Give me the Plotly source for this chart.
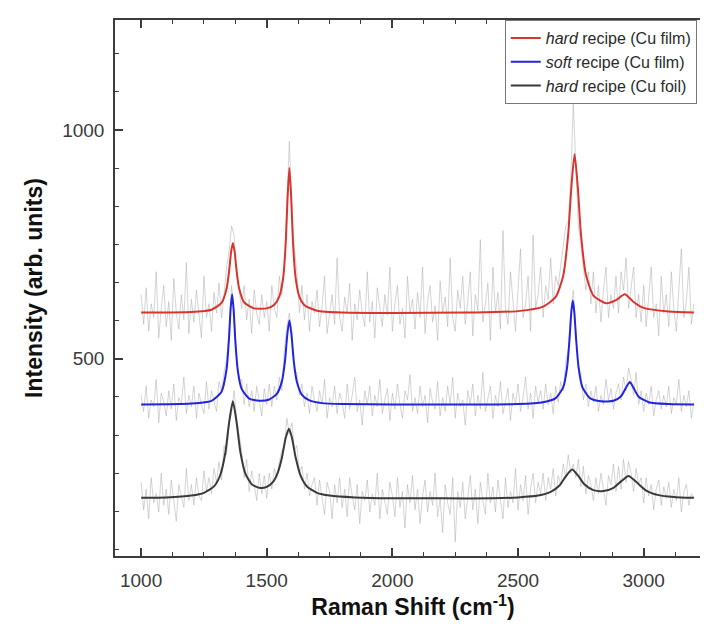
import plotly.graph_objects as go

# ---------------- data ----------------
series_names = ["<i>hard</i> recipe (Cu film)", "<i>soft</i> recipe (Cu film)", "<i>hard</i> recipe (Cu foil)"]
series_colors = ["#d8352f", "#2424e0", "#3a3a3a"]

# raw spectra sampled every 10 cm-1 from 1000 cm-1
RAW_START = 1000
RAW_STEP = 10

raw_hard_film = [
    640, 575, 655, 560, 620, 590, 690, 545, 610, 660,
    570, 625, 540, 675, 600, 565, 640, 585, 710, 555,
    630, 580, 650, 600, 545, 680, 590, 620, 560, 645,
    600, 665, 590, 640, 700, 735, 790, 770, 680, 650,
    610, 660, 585, 630, 555, 650, 600, 575, 640, 590,
    625, 560, 660, 610, 590, 680, 640, 700, 840, 975,
    820, 740, 690, 600, 660, 585, 640, 560, 625, 600,
    650, 570, 615, 680, 555, 605, 640, 575, 720, 590,
    560, 635, 600, 665, 540, 620, 585, 650, 600, 570,
    690, 580, 625, 545, 655, 610, 570, 640, 595, 700,
    560, 620, 660, 575, 610, 545, 680, 600, 630, 565,
    645, 590, 700, 555, 625, 660, 580, 615, 540, 670,
    600, 635, 570, 720, 590, 560, 650, 610, 680, 575,
    625, 690, 550, 640, 605, 760, 580, 620, 665, 540,
    700, 600, 645, 565, 780, 610, 575, 690, 630, 560,
    650, 740, 590, 620, 680, 560, 770, 610, 640, 700,
    590, 660, 630, 720, 620, 680, 660, 700, 740, 790,
    800, 890, 1060, 930, 790, 750, 700, 650, 690, 620,
    690, 600, 660, 580, 650, 700, 590, 640, 610, 680,
    600, 690, 650, 720, 610, 660, 700, 590, 640, 580,
    660, 570, 640, 700, 590, 620, 550, 680, 600, 640,
    570, 690, 610, 560, 650, 740, 590, 625, 700, 575,
    620,
]

raw_soft_film = [
    420, 385, 440, 370, 410, 395, 455, 360, 425, 405,
    375, 430, 390, 445, 365, 415, 400, 460, 380, 420,
    395, 440, 370, 425, 400, 380, 450, 390, 430, 410,
    385, 450, 430, 470, 500, 560, 660, 600, 500, 450,
    455, 400, 445, 395, 430, 385, 440, 410, 375, 435,
    400, 445, 395, 440, 410, 460, 430, 520, 570, 600,
    560, 470, 470, 420, 445, 395, 425, 380, 440, 410,
    385, 430, 400, 455, 370, 415, 395, 440, 380, 425,
    405, 370, 445, 390, 420, 460, 385, 410, 355, 430,
    400, 440, 375, 420, 395, 455, 380, 410, 435, 365,
    425, 390, 445, 400, 370, 430, 410, 465, 385, 415,
    380, 440, 395, 420, 360, 435, 405, 390, 450, 375,
    415, 385, 440, 400, 460, 370, 425, 395, 410, 355,
    430, 400, 445, 375, 420, 390, 470, 385, 415, 440,
    370, 420, 395, 450, 380, 410, 435, 365, 425, 400,
    445, 385, 415, 460, 390, 425, 370, 440, 405, 430,
    390, 445, 400, 425, 380, 440, 405, 450, 430, 495,
    520, 600, 650, 560, 475, 470, 410, 445, 395, 430,
    405, 440, 385, 420, 400, 455, 410, 435, 390, 425,
    445, 410, 460, 430, 480, 455, 420, 470, 400, 430,
    385, 425, 400, 440, 375, 410, 430, 390, 420, 395,
    440, 380, 415, 400, 455, 385, 420, 395, 430, 370,
    405,
]

raw_hard_foil = [
    230, 170, 215, 150, 240, 185, 205, 165, 250, 180,
    215, 160, 235, 190, 145, 225, 200, 175, 260, 190,
    225, 180, 240, 200, 190, 255, 210, 240, 205, 260,
    230, 275, 235, 310, 290, 360, 380, 430, 370, 330,
    300, 240, 280, 210, 255, 225, 190, 250, 205, 245,
    195, 250, 215, 260, 240, 275, 300, 310, 370, 335,
    360, 300, 310, 250, 265, 215, 250, 200, 225, 240,
    180, 235, 195, 160, 230, 210, 150, 225, 185, 240,
    175, 215, 155, 240, 200, 170, 225, 140, 210, 190,
    235, 165, 205, 180, 250, 150, 215, 190, 160, 230,
    200, 155, 240, 175, 210, 130, 225, 185, 245, 170,
    215, 140, 200, 235, 165, 210, 180, 250, 155, 195,
    120, 225, 185, 160, 240, 100, 210, 175, 230, 150,
    205, 245, 170, 215, 140, 230, 190, 160, 250, 185,
    220, 165, 235, 195, 150, 240, 175, 210, 185, 260,
    170, 225, 190, 245, 160, 215, 250, 185, 230, 205,
    250, 190, 240, 215, 260, 200, 245, 225, 270, 240,
    290, 250, 270, 240, 280, 220, 265, 205, 245, 225,
    190, 240, 205, 250, 215, 180, 245, 225, 270, 210,
    265, 215, 280, 230, 275, 250, 210, 260, 225, 240,
    185, 240, 200, 225, 170, 215, 235, 180, 220, 195,
    230, 175, 215, 190, 240, 165, 210, 225, 180, 205,
    195,
]

# fitted curves
fit_hard_film_x = [1000, 1200, 1280, 1320, 1340, 1350, 1358, 1365, 1372, 1380, 1390, 1410, 1450,
                   1500, 1530, 1550, 1565, 1575, 1583, 1590, 1597, 1605, 1615, 1630, 1650, 1700,
                   1800, 2000, 2300, 2500, 2600, 2650, 2680, 2700, 2712, 2725, 2738, 2750, 2770,
                   2800, 2850, 2890, 2925, 2960, 3000, 3100, 3200]
fit_hard_film_y = [601, 602, 607, 622, 653, 691, 733, 753, 734, 692, 654, 623, 610,
                   610, 618, 636, 676, 748, 854, 917, 854, 748, 676, 635, 617, 605,
                   601, 600, 601, 604, 614, 635, 682, 774, 873, 947, 874, 775, 684,
                   638, 621, 628, 641, 624, 611, 603, 601]

fit_soft_film_x = [1000, 1200, 1280, 1320, 1340, 1350, 1356, 1362, 1368, 1375, 1385, 1400, 1430,
                   1470, 1510, 1540, 1560, 1572, 1582, 1590, 1598, 1608, 1620, 1640, 1670, 1720,
                   1800, 2000, 2300, 2500, 2600, 2650, 2680, 2695, 2705, 2712, 2718, 2724, 2731,
                   2741, 2756, 2786, 2830, 2880, 2910, 2930, 2945, 2960, 2980, 3020, 3100, 3200]
fit_soft_film_y = [400, 402, 408, 428, 477, 547, 608, 641, 608, 538, 473, 434, 413,
                   408, 411, 423, 450, 492, 554, 584, 554, 492, 449, 421, 409, 403,
                   401, 400, 400, 401, 405, 414, 438, 480, 543, 601, 627, 602, 544,
                   481, 438, 414, 407, 408, 418, 437, 449, 436, 417, 405, 401, 400]

fit_hard_foil_x = [1000, 1100, 1200, 1250, 1290, 1315, 1335, 1350, 1365, 1380, 1395, 1415, 1440,
                   1470, 1500, 1525, 1545, 1560, 1575, 1588, 1600, 1615, 1635, 1660, 1700, 1750,
                   1850, 2000, 2200, 2400, 2500, 2580, 2630, 2665, 2690, 2715, 2740, 2765, 2800,
                   2840, 2880, 2910, 2940, 2970, 3010, 3060, 3120, 3200]
fit_hard_foil_y = [196, 197, 201, 207, 221, 246, 294, 360, 407, 361, 296, 249, 226,
                   218, 220, 231, 253, 283, 326, 347, 328, 284, 244, 221, 207, 201,
                   197, 195, 195, 195, 197, 201, 209, 223, 243, 258, 244, 225, 213,
                   211, 218, 232, 244, 231, 212, 202, 198, 196]

raw_series = [raw_hard_film, raw_soft_film, raw_hard_foil]
fit_series = [(fit_hard_film_x, fit_hard_film_y), (fit_soft_film_x, fit_soft_film_y),
              (fit_hard_foil_x, fit_hard_foil_y)]

x_range = [896, 3268]
y_range = [69, 1240]
x_ticks = [1000, 1500, 2000, 2500, 3000]
y_ticks = [500, 1000]

# ---------------- figure ----------------
fig = go.Figure()

for raw in raw_series:
    fig.add_trace(go.Scatter(
        y=raw, x0=RAW_START, dx=RAW_STEP, mode="lines",
        line=dict(color="rgba(170,170,170,0.5)", width=1),
        showlegend=False, hoverinfo="skip"))

for (fx, fy), name, color in zip(fit_series, series_names, series_colors):
    fig.add_trace(go.Scatter(
        x=fx, y=fy, mode="lines", name=name,
        line=dict(color=color, width=2, shape="spline", smoothing=0.6)))

axis_color = "#3c3c3c"
common_axis = dict(
    showline=True, linecolor=axis_color, linewidth=1.5, mirror="allticks",
    ticks="inside", ticklen=8, tickwidth=1.5, tickcolor=axis_color,
    showgrid=False, zeroline=False, automargin=False,
    tickfont=dict(size=19, color="#3a3a3a"),
)

fig.update_layout(
    width=708, height=624,
    margin=dict(l=107, r=5, t=12, b=76),
    paper_bgcolor="white", plot_bgcolor="white",
    font=dict(family="Arial, 'Liberation Sans', sans-serif", color="#222"),
    xaxis=dict(
        range=x_range, tickvals=x_ticks,
        minor=dict(ticks="inside", ticklen=4, tickwidth=1.2, tickcolor=axis_color,
                   dtick=125, tick0=1000),
        title=dict(text="<b>Raman Shift (cm<sup>-1</sup>)</b>",
                   font=dict(size=23, color="#111"), standoff=9),
        ticklabelstandoff=6,
        **common_axis),
    yaxis=dict(
        range=y_range, tickvals=y_ticks,
        minor=dict(ticks="inside", ticklen=4, tickwidth=1.2, tickcolor=axis_color,
                   dtick=500 / 6, tick0=0),
        title=dict(text="<b>Intensity (arb. units)</b>",
                   font=dict(size=23, color="#111"), standoff=13),
        ticklabelstandoff=5,
        **common_axis),
    legend=dict(
        x=0.654, y=1.0, xanchor="left", yanchor="top",
        bordercolor="#777", borderwidth=1, bgcolor="white",
        font=dict(size=16, color="#2a2a2a"), tracegroupgap=0),
)

fig.write_html("out.html")
